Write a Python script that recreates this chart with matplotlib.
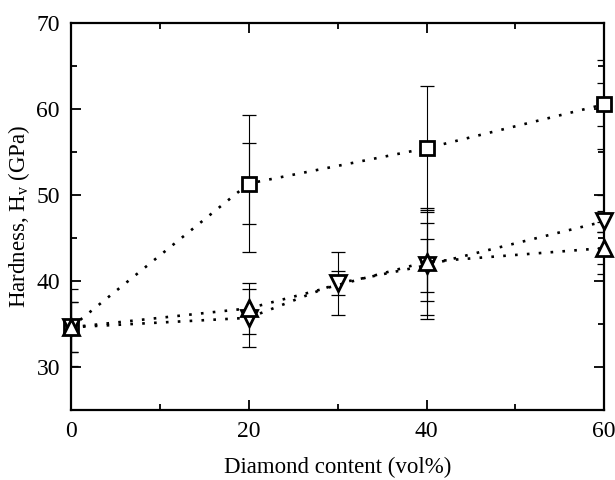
import matplotlib
matplotlib.use("Agg")
import matplotlib.pyplot as plt
from matplotlib.ticker import MultipleLocator

plt.rcParams['font.family'] = ['Liberation Serif', 'DejaVu Serif']
plt.rcParams['mathtext.fontset'] = 'custom'
plt.rcParams['mathtext.rm'] = 'Liberation Serif'

# Square series
x_sq = [0, 20, 40, 60]
y_sq = [34.6, 51.3, 55.4, 60.5]
err_sq_outer = [4.5, 8.0, 7.2, 5.2]
err_sq_inner = [0.0, 4.7, 0.0, 2.5]

# Down-triangle series
x_dn = [0, 20, 30, 40, 60]
y_dn = [34.6, 35.7, 39.7, 41.8, 46.9]
err_dn_outer = [2.9, 3.4, 3.7, 6.2, 3.1]
err_dn_inner = [0.0, 0.0, 1.4, 3.1, 1.2]

# Up-triangle series
x_up = [0, 20, 40, 60]
y_up = [34.6, 36.8, 42.2, 43.8]
err_up_outer = [2.9, 3.0, 6.2, 3.0]
err_up_inner = [0.0, 0.0, 4.5, 1.9]

fig = plt.figure(figsize=(6.15, 4.8), dpi=100)
ax = fig.add_axes([0.1155, 0.146, 0.867, 0.807])

eb_kw = dict(fmt='none', ecolor='black', elinewidth=0.8, capsize=5, capthick=0.9, zorder=2)
for xs, ys, eo, ei in [(x_sq, y_sq, err_sq_outer, err_sq_inner),
                       (x_dn, y_dn, err_dn_outer, err_dn_inner),
                       (x_up, y_up, err_up_outer, err_up_inner)]:
    ax.errorbar(xs, ys, yerr=eo, **eb_kw)
    xi = [x for x, e in zip(xs, ei) if e > 0]
    yi = [y for y, e in zip(ys, ei) if e > 0]
    ee = [e for e in ei if e > 0]
    ax.errorbar(xi, yi, yerr=ee, **eb_kw)

line_kw = dict(color='black', linestyle=(0, (1, 3.5)), linewidth=1.9, markerfacecolor='white',
               markeredgecolor='black', markeredgewidth=2.0, zorder=3, clip_on=False)
ax.plot(x_sq, y_sq, marker='s', markersize=10, **line_kw)
ax.plot(x_dn, y_dn, marker='v', markersize=12, **line_kw)
ax.plot(x_up, y_up, marker='^', markersize=12, **line_kw)

ax.set_xlim(0, 60)
ax.set_ylim(25, 70)
ax.xaxis.set_major_locator(MultipleLocator(20))
ax.xaxis.set_minor_locator(MultipleLocator(10))
ax.yaxis.set_major_locator(MultipleLocator(10))
ax.yaxis.set_minor_locator(MultipleLocator(5))
ax.set_yticks([30, 40, 50, 60, 70])
ax.tick_params(which='both', direction='in', top=True, right=True, width=1.3)
ax.tick_params(which='major', length=7, labelsize=17, pad=8)
ax.tick_params(which='minor', length=4)
for s in ax.spines.values():
    s.set_linewidth(1.6)

ax.set_xlabel('Diamond content (vol%)', fontsize=16.5, labelpad=11)
ax.set_ylabel(r'Hardness, H$_\mathregular{v}$ (GPa)', fontsize=16.5, labelpad=3)

fig.savefig('out.png', dpi=100)
